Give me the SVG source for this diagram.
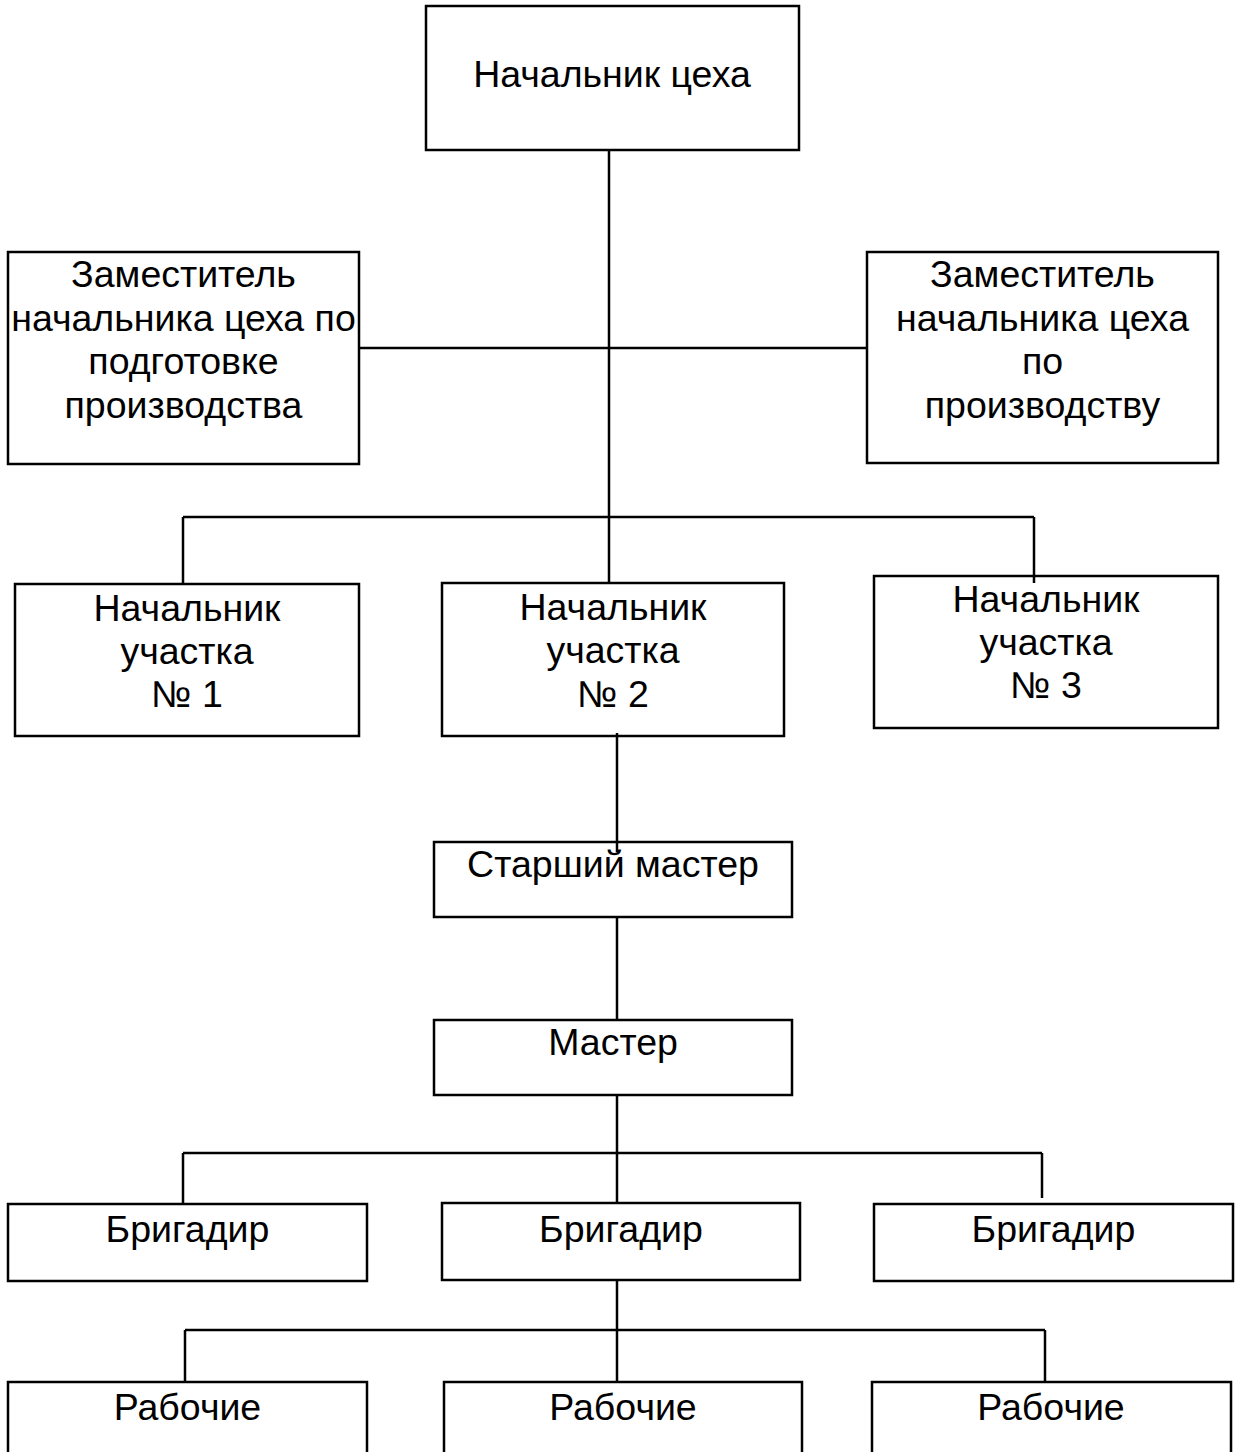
<svg xmlns="http://www.w3.org/2000/svg" width="1237" height="1452" viewBox="0 0 1237 1452">
<style>
.box{fill:#fff;stroke:#000;stroke-width:2.5}
.t{font-family:"Liberation Sans",Arial,sans-serif;font-size:37.5px;fill:#000;text-anchor:middle}
.c line{stroke:#000;stroke-width:2.5}
</style>
<rect width="1237" height="1452" fill="#fff"/>
<g id="head"><rect class="box" x="426" y="6" width="373" height="144"/><text class="t" x="612" y="87">Начальник цеха</text></g>
<g id="dep1"><rect class="box" x="8" y="252" width="351" height="212"/><text class="t" x="183.5"><tspan x="183.5" y="287">Заместитель</tspan><tspan x="183.5" y="330.5">начальника цеха по</tspan><tspan x="183.5" y="374">подготовке</tspan><tspan x="183.5" y="417.5">производства</tspan></text></g>
<g id="dep2"><rect class="box" x="867" y="252" width="351" height="211"/><text class="t" x="1042.5"><tspan x="1042.5" y="287">Заместитель</tspan><tspan x="1042.5" y="330.5">начальника цеха</tspan><tspan x="1042.5" y="374">по</tspan><tspan x="1042.5" y="417.5">производству</tspan></text></g>
<g id="sec1"><rect class="box" x="15" y="584" width="344" height="152"/><text class="t"><tspan x="187" y="621">Начальник</tspan><tspan x="187" y="664">участка</tspan><tspan x="187" y="707">№ 1</tspan></text></g>
<g id="sec2"><rect class="box" x="442" y="583" width="342" height="153"/><text class="t"><tspan x="613" y="620">Начальник</tspan><tspan x="613" y="663">участка</tspan><tspan x="613" y="707">№ 2</tspan></text></g>
<g id="sec3"><rect class="box" x="874" y="576" width="344" height="152"/><text class="t"><tspan x="1046" y="612">Начальник</tspan><tspan x="1046" y="655">участка</tspan><tspan x="1046" y="698">№ 3</tspan></text></g>
<g id="senior"><rect class="box" x="434" y="842" width="358" height="75"/><text class="t" x="613" y="877">Старший мастер</text></g>
<g id="master"><rect class="box" x="434" y="1020" width="358" height="75"/><text class="t" x="613" y="1055">Мастер</text></g>
<g id="brig1"><rect class="box" x="8" y="1204" width="359" height="77"/><text class="t" x="187.5" y="1242">Бригадир</text></g>
<g id="brig2"><rect class="box" x="442" y="1203" width="358" height="77"/><text class="t" x="621" y="1242">Бригадир</text></g>
<g id="brig3"><rect class="box" x="874" y="1204" width="359" height="77"/><text class="t" x="1053.5" y="1242">Бригадир</text></g>
<g id="work1"><rect class="box" x="8" y="1382" width="359" height="100"/><text class="t" x="187.5" y="1420">Рабочие</text></g>
<g id="work2"><rect class="box" x="444" y="1382" width="358" height="100"/><text class="t" x="623" y="1420">Рабочие</text></g>
<g id="work3"><rect class="box" x="872" y="1382" width="359" height="100"/><text class="t" x="1051" y="1420">Рабочие</text></g>
<g class="c" id="connectors">
<line x1="609" y1="150" x2="609" y2="583"/>
<line x1="359" y1="348" x2="867" y2="348"/>
<line x1="183" y1="517" x2="1034" y2="517"/>
<line x1="183" y1="517" x2="183" y2="584"/>
<line x1="1034" y1="517" x2="1034" y2="583"/>
<line x1="617" y1="733" x2="617" y2="852"/>
<line x1="617" y1="917" x2="617" y2="1020"/>
<line x1="617" y1="1095" x2="617" y2="1203"/>
<line x1="183" y1="1153" x2="1042" y2="1153"/>
<line x1="183" y1="1153" x2="183" y2="1203"/>
<line x1="1042" y1="1153" x2="1042" y2="1198"/>
<line x1="617" y1="1280" x2="617" y2="1382"/>
<line x1="185" y1="1330" x2="1045" y2="1330"/>
<line x1="185" y1="1330" x2="185" y2="1382"/>
<line x1="1045" y1="1330" x2="1045" y2="1382"/>
</g>
</svg>
